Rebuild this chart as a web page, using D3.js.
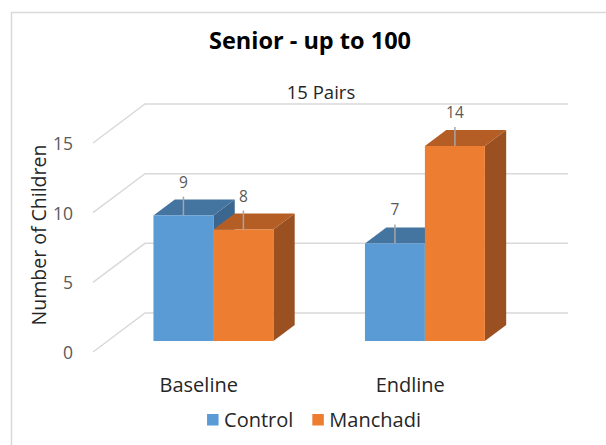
<!DOCTYPE html>
<html>
<head>
<meta charset="utf-8">
<script src="https://cdn.jsdelivr.net/npm/d3@7"></script>
<style>
  html, body { margin: 0; padding: 0; background: #fff; }
  svg { display: block; font-family: "Open Sans", "DejaVu Sans", sans-serif; }
</style>
</head>
<body>
<svg id="chart" width="606" height="445"></svg>
<script>
// Data
const categories = ["Baseline", "Endline"];
const seriesNames = ["Control", "Manchadi"];
const controlValues = [9, 7];
const manchadiValues = [8, 14];
const tickValues = [0, 5, 10, 15];
const chartTitle = "Senior - up to 100";
const chartSubtitle = "15 Pairs";
const yAxisTitle = "Number of Children";

const seriesValues = [controlValues, manchadiValues];
const frontColors = ["#5b9bd5", "#ed7d31"];
const topColors = ["#4474a0", "#b45e25"];
const sideColors = ["#3b668f", "#9a5020"];

const svg = d3.select("#chart");
const W = 606, H = 445;

// Outer chart frame (open on right and bottom)
svg.append("rect").attr("width", W).attr("height", H).attr("fill", "#fff");
svg.append("path")
  .attr("d", `M11.5,${H} L11.5,12.5 L${W},12.5`)
  .attr("fill", "none").attr("stroke", "#d9d9d9").attr("stroke-width", 1.5);

// Back wall geometry and oblique depth offset
const wallLeft = 145, wallRight = 568;
const depthDx = -52, depthDy = 39;   // offset from back plane to front plane
const y = d3.scaleLinear().domain([0, 15]).range([313, 104]);
const x = d3.scaleBand().domain(categories).range([wallLeft, wallRight])
  .paddingInner(0.433).paddingOuter(0.2165);
const xs = d3.scaleBand().domain(seriesNames).range([0, x.bandwidth()]).padding(0);

// depth d: 0 = front plane, 1 = back wall
function proj(xb, v, d) {
  return [xb + (1 - d) * depthDx, y(v) + (1 - d) * depthDy];
}
const barFront = 0.282, barBack = 0.692;

// Gridlines: back wall + left side wall
const grid = svg.append("g").attr("stroke", "#d9d9d9").attr("stroke-width", 1.5).attr("fill", "none");
tickValues.forEach(t => {
  const a = proj(wallLeft, t, 0), b = proj(wallLeft, t, 1), c = proj(wallRight, t, 1);
  grid.append("path").attr("d", `M${a[0]},${a[1]} L${b[0]},${b[1]} L${c[0]},${c[1]}`);
});

// Value axis labels on the front-left edge
svg.append("g").selectAll("text").data(tickValues).join("text")
  .attr("x", 73)
  .attr("y", d => proj(wallLeft, d, 0)[1] + 7)
  .attr("text-anchor", "end")
  .attr("font-size", 17.5)
  .attr("fill", "#595959")
  .text(d => d);

// Axis title
svg.append("text")
  .attr("transform", "translate(46,235) rotate(-90)")
  .attr("text-anchor", "middle")
  .attr("font-size", 19.5)
  .attr("fill", "#262626")
  .text(yAxisTitle);

// Bars as oblique 3D boxes
const poly = pts => "M" + pts.map(p => p.join(",")).join("L") + "Z";
const bars = svg.append("g");
const labelInfo = [];
categories.forEach((cat, ci) => {
  seriesNames.forEach((s, si) => {
    const v = seriesValues[si][ci];
    const x0 = x(cat) + xs(s), x1 = x0 + xs.bandwidth();
    const g = bars.append("g");
    g.append("path").attr("fill", sideColors[si])
      .attr("d", poly([proj(x1, 0, barFront), proj(x1, v, barFront), proj(x1, v, barBack), proj(x1, 0, barBack)]));
    g.append("path").attr("fill", topColors[si])
      .attr("d", poly([proj(x0, v, barFront), proj(x1, v, barFront), proj(x1, v, barBack), proj(x0, v, barBack)]));
    g.append("path").attr("fill", frontColors[si])
      .attr("d", poly([proj(x0, 0, barFront), proj(x1, 0, barFront), proj(x1, v, barFront), proj(x0, v, barFront)]));
    const top = proj((x0 + x1) / 2, v, barFront);
    labelInfo.push({ v, cx: top[0], ty: top[1] });
  });
});

// Data labels with leader lines
const labels = svg.append("g");
labelInfo.forEach(d => {
  const base = d.ty - 28;
  labels.append("line")
    .attr("x1", d.cx).attr("x2", d.cx)
    .attr("y1", base + 9).attr("y2", d.ty)
    .attr("stroke", "#a6a6a6").attr("stroke-width", 1.5);
  labels.append("text")
    .attr("x", d.cx).attr("y", base)
    .attr("text-anchor", "middle")
    .attr("font-size", 15.5)
    .attr("fill", "#595959")
    .text(d.v);
});

// Category labels under the front floor edge
svg.append("g").selectAll("text").data(categories).join("text")
  .attr("x", d => proj(x(d) + x.bandwidth() / 2, 0, 0)[0])
  .attr("y", 392)
  .attr("text-anchor", "middle")
  .attr("font-size", 20)
  .attr("fill", "#262626")
  .text(d => d);

// Title and subtitle
svg.append("text").attr("x", 310).attr("y", 49)
  .attr("text-anchor", "middle").attr("font-size", 23.5).attr("font-weight", "bold")
  .attr("fill", "#000").text(chartTitle);
svg.append("text").attr("x", 321).attr("y", 99)
  .attr("text-anchor", "middle").attr("font-size", 18.5)
  .attr("fill", "#262626").text(chartSubtitle);

// Legend
const legend = svg.append("g");
let lx = 0;
seriesNames.forEach((s, i) => {
  const item = legend.append("g").attr("transform", `translate(${lx},0)`);
  item.append("rect").attr("x", 0).attr("y", -13).attr("width", 11.5).attr("height", 11.5).attr("fill", frontColors[i]);
  const t = item.append("text").attr("x", 17).attr("y", 0).attr("font-size", 20).attr("fill", "#262626").text(s);
  lx += 17 + t.node().getComputedTextLength() + 19;
});
const legendWidth = lx - 19;
legend.attr("transform", `translate(${314 - legendWidth / 2},427)`);
</script>
</body>
</html>
